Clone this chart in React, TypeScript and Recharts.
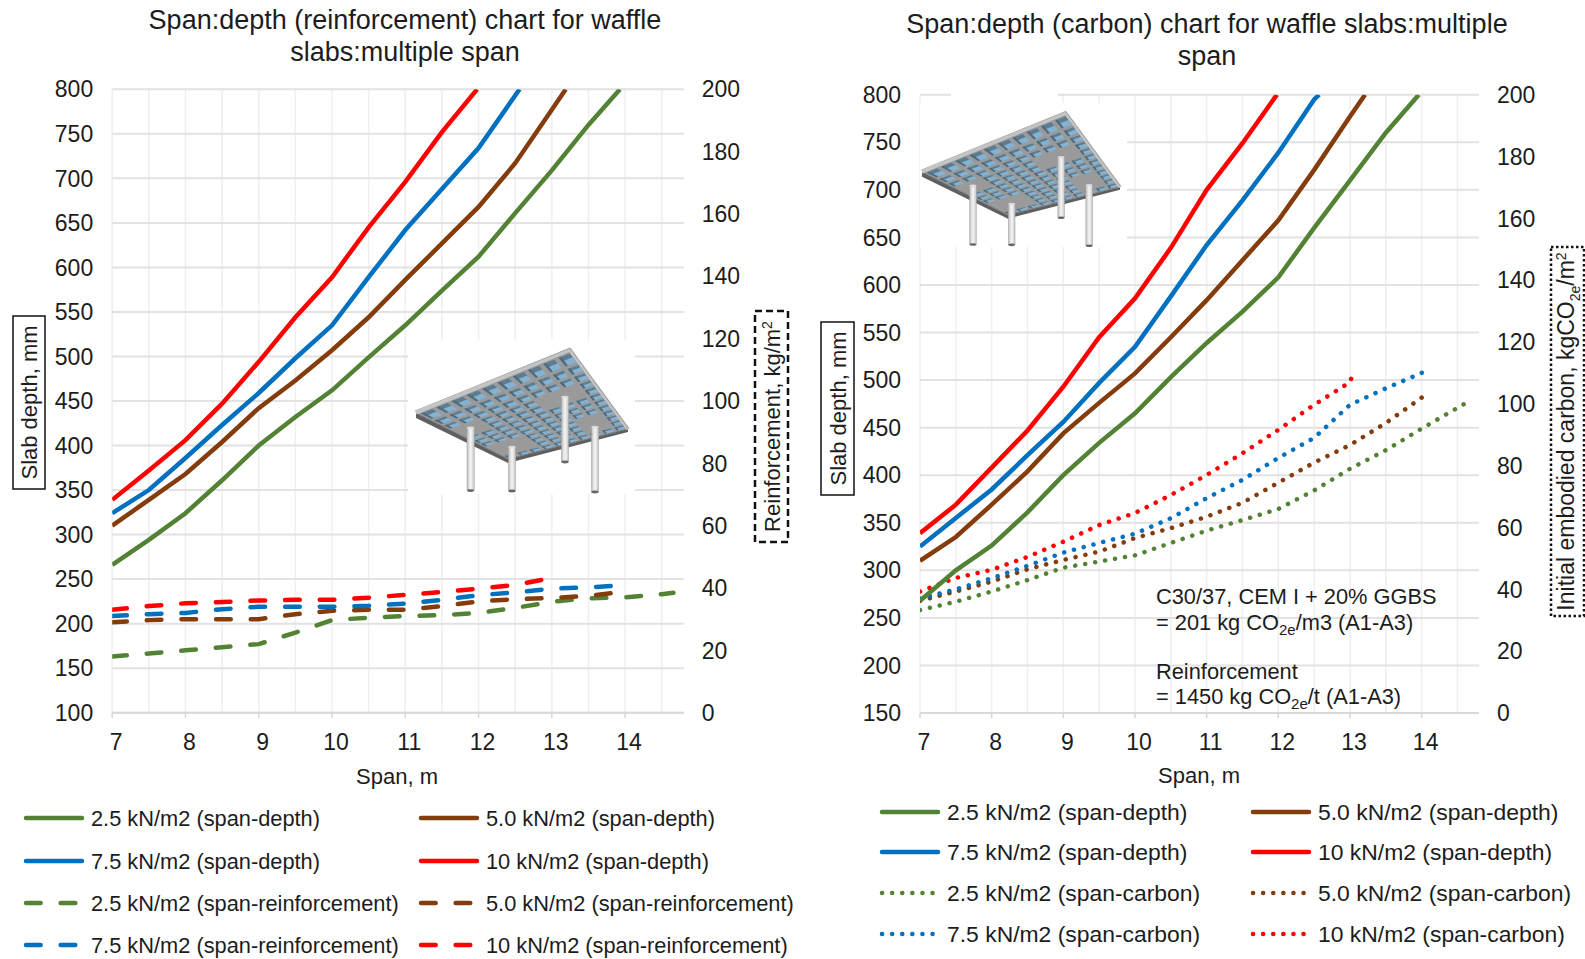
import { CartesianGrid, Line, LineChart, XAxis, YAxis } from "recharts";

const FONT = "'Liberation Sans', Arial, sans-serif";
const INK = "#1c1c1c";

const halfSpans = [7, 7.5, 8, 8.5, 9, 9.5, 10, 10.5, 11, 11.5, 12, 12.5, 13, 13.5, 14, 14.5];
const majorSpans = [7, 8, 9, 10, 11, 12, 13, 14];
const depthTicksLeft = [100, 150, 200, 250, 300, 350, 400, 450, 500, 550, 600, 650, 700, 750, 800];
const depthTicksRight = [150, 200, 250, 300, 350, 400, 450, 500, 550, 600, 650, 700, 750, 800];
const secondaryTicks = [0, 20, 40, 60, 80, 100, 120, 140, 160, 180, 200];

const loads = ["2.5 kN/m2", "5.0 kN/m2", "7.5 kN/m2", "10 kN/m2"];
const colors = ["#548235", "#843C0C", "#0070C0", "#FF0000"];

// left chart: slab depth, mm (last value of each list sits at the end span)
const leftDepth = [
  [266, 294, 324, 361, 400, 432, 462, 499, 535, 574, 612, 661, 709, 760, 800],
  [310, 339, 368, 404, 442, 473, 507, 544, 586, 627, 668, 717, 777, 800],
  [324, 350, 386, 423, 459, 498, 535, 589, 642, 688, 734, 793, 800],
  [339, 372, 406, 447, 494, 544, 589, 645, 696, 752, 800],
];
const leftDepthEnds = [13.93, 13.19, 12.56, 11.98];

// left chart: reinforcement, kg/m2
const leftRebar = [
  [18, 19, 20, 21, 22, 25.7, 29.7, 30.5, 31, 31.3, 32, 33.6, 35.6, 36.7, 37, 38, 38.5],
  [29, 29.7, 30, 30, 30, 31.6, 32.7, 33, 33, 34.2, 35.7, 36.4, 36.8, 37.5, 38.6],
  [31, 31.6, 32, 33.2, 34, 34, 34, 34.3, 35, 36.2, 37.7, 38.6, 39.8, 40.2, 40.8],
  [33, 34.2, 35.1, 35.5, 36, 36.2, 36.2, 36.9, 37.8, 38.7, 39.8, 41, 43],
];
const leftRebarEnds = [14.66, 13.91, 13.91, 12.95];

// right chart: slab depth, mm
const rightDepth = [
  [268, 300, 326, 361, 400, 434, 465, 503, 539, 572, 608, 660, 710, 760, 800],
  [310, 335, 369, 404, 444, 476, 507, 545, 584, 626, 668, 721, 777, 800],
  [325, 355, 385, 421, 456, 497, 535, 588, 642, 689, 739, 795, 800],
  [339, 369, 408, 447, 493, 545, 586, 639, 700, 749, 800],
];
const rightDepthEnds = [13.96, 13.21, 12.57, 11.98];

// right chart: initial embodied carbon, kgCO2e/m2
const rightCarbon = [
  [33.3, 36, 39.3, 43, 47, 49, 51, 55, 59, 62.4, 66, 72, 79, 85, 92, 98.7, 100.6],
  [36.3, 39.3, 42.5, 46.5, 49.5, 52.2, 56.6, 59.8, 63.5, 68, 74.5, 81, 86.7, 93.8, 102, 103],
  [37, 40, 43.6, 47.6, 51.9, 55, 58, 63, 69.5, 75.4, 82.5, 89, 99.7, 105, 110, 111],
  [39.3, 43.7, 46.3, 50.5, 55.4, 60.8, 64.7, 70.5, 77, 84, 91.6, 99.7, 107, 110.4],
];
const rightCarbonEnds = [14.64, 14.05, 14.05, 13.05];

const DASHED = "14.65 20";
const DOTTED = "0.1 10";
const LINE_WIDTH = 4.5;

const toPoints = (values: number[], endSpan: number) =>
  values.map((value, i) => ({
    span: i === values.length - 1 ? endSpan : halfSpans[i],
    value,
  }));

function XTick({ x, y, payload }: any) {
  return (
    <text x={x + 4} y={y + 30} textAnchor="middle" fontSize={23} fontFamily={FONT} fill={INK}>
      {payload.value}
    </text>
  );
}

function SpanChart(props: {
  left: number;
  width: number;
  plotLeft: number;
  plotRight: number;
  plotTop: number;
  plotBottom: number;
  minDepth: number;
  depthTicks: number[];
  depth: number[][];
  depthEnds: number[];
  other: number[][];
  otherEnds: number[];
  otherName: string;
  otherDash: string;
}) {
  const height = 800;
  const tickStyle = { fontSize: 23, fontFamily: FONT, fill: INK };
  return (
    <div style={{ position: "absolute", left: props.left, top: 0 }}>
      <LineChart
        width={props.width}
        height={height}
        margin={{ top: props.plotTop, left: 0, right: 0, bottom: 0 }}
      >
        <CartesianGrid
          xAxisId="span"
          yAxisId="depth"
          horizontal={false}
          verticalValues={halfSpans}
          stroke="#efefef"
          strokeWidth={1.5}
        />
        <CartesianGrid
          xAxisId="span"
          yAxisId="depth"
          vertical={false}
          horizontalValues={props.depthTicks}
          stroke="#e2e2e2"
          strokeWidth={2}
        />
        <XAxis
          xAxisId="span"
          type="number"
          dataKey="span"
          domain={[7, 14.8]}
          ticks={majorSpans}
          interval={0}
          height={height - props.plotBottom}
          tick={XTick}
          tickSize={5}
          tickLine={{ stroke: "#d4d4d4", strokeWidth: 1.5 }}
          axisLine={{ stroke: "#d9d9d9", strokeWidth: 2 }}
          allowDataOverflow
        />
        <YAxis
          yAxisId="depth"
          type="number"
          domain={[props.minDepth, 800]}
          ticks={props.depthTicks}
          interval={0}
          width={props.plotLeft}
          tick={tickStyle}
          tickSize={0}
          tickMargin={19}
          axisLine={false}
          allowDataOverflow
        />
        <YAxis
          yAxisId="other"
          orientation="right"
          type="number"
          domain={[0, 200]}
          ticks={secondaryTicks}
          interval={0}
          width={props.width - props.plotRight}
          tick={{ ...tickStyle, textAnchor: "start" }}
          tickSize={0}
          tickMargin={18}
          axisLine={false}
          allowDataOverflow
        />
        {props.other.map((values, i) => (
          <Line
            key={"other" + i}
            xAxisId="span"
            yAxisId="other"
            name={`${loads[i]} (${props.otherName})`}
            data={toPoints(values, props.otherEnds[i])}
            dataKey="value"
            type="linear"
            stroke={colors[i]}
            strokeWidth={LINE_WIDTH}
            strokeLinecap="round"
            strokeDasharray={props.otherDash}
            dot={false}
            isAnimationActive={false}
          />
        ))}
        {props.depth.map((values, i) => (
          <Line
            key={"depth" + i}
            xAxisId="span"
            yAxisId="depth"
            name={`${loads[i]} (span-depth)`}
            data={toPoints(values, props.depthEnds[i])}
            dataKey="value"
            type="linear"
            stroke={colors[i]}
            strokeWidth={LINE_WIDTH}
            dot={false}
            isAnimationActive={false}
          />
        ))}
      </LineChart>
    </div>
  );
}

// small drawing of the slab, local origin at its left corner
const corners = { a: [154, -63], r: [212, 16], b: [92, 46] };
const columnHeads = [
  [0.12, 0.45],
  [0.15, 0.85],
  [0.75, 0.45],
  [0.8, 0.85],
];
const columnPosts = [
  [54.6, 14.6, 63],
  [96, 34, 44],
  [149, -16, 65],
  [179, 14, 65],
];

function mapCell(u: number, v: number) {
  const vv = Math.pow(v, 0.72);
  const { a, r, b } = corners;
  const x = u * (1 - vv) * a[0] + (1 - u) * vv * b[0] + u * vv * r[0];
  const y = u * (1 - vv) * a[1] + (1 - u) * vv * b[1] + u * vv * r[1];
  return `${x.toFixed(1)},${y.toFixed(1)}`;
}

function WaffleSlab({ x, y, scale }: { x: number; y: number; scale: number }) {
  const cols = 10;
  const rows = 12;
  const cells = [];
  for (let i = 0; i < cols; i++) {
    for (let j = 0; j < rows; j++) {
      const u0 = (i + 0.14) / cols;
      const u1 = (i + 0.86) / cols;
      const v0 = (j + 0.1) / rows;
      const v1 = (j + 0.82) / rows;
      const uc = (u0 + u1) / 2;
      const vc = Math.pow((v0 + v1) / 2, 0.72);
      const solid = columnHeads.some(([hu, hv]) => Math.abs(uc - hu) < 0.12 && Math.abs(vc - hv) < 0.1);
      if (solid) continue;
      const um = u0 + (u1 - u0) * 0.22;
      const vm = v0 + (v1 - v0) * 0.38;
      cells.push(
        <g key={i + "-" + j}>
          <polygon
            points={[mapCell(u0, v0), mapCell(u1, v0), mapCell(u1, v1), mapCell(u0, v1)].join(" ")}
            fill="#84b2d2"
          />
          <polygon
            points={[mapCell(u0, v0), mapCell(u1, v0), mapCell(u1, vm), mapCell(u0, vm)].join(" ")}
            fill="#5f7c8e"
          />
          <polygon
            points={[mapCell(u0, v0), mapCell(um, v0), mapCell(um, v1), mapCell(u0, v1)].join(" ")}
            fill="#4f6a7b"
          />
        </g>
      );
    }
  }
  const { a, r, b } = corners;
  return (
    <g transform={`translate(${x} ${y}) scale(${scale})`}>
      <polygon points={`0,5 ${b[0]},${b[1] + 4} ${r[0]},${r[1] + 3} ${r} ${b} 0,0`} fill="#5f5f5f" />
      <polygon points={`0,0 ${a} ${r} ${b}`} fill="#9a9a9a" stroke="#767676" strokeWidth={1} strokeLinejoin="round" />
      {cells}
      <polyline points={`0,0 ${a} ${r}`} fill="none" stroke="#c4c4c4" strokeWidth={3.5} />
      <polyline points={`-1,-2 ${a[0]},${a[1] - 2} ${r[0] + 1},${r[1]}`} fill="none" stroke="#8a8a8a" strokeWidth={0.7} />
      {columnPosts.map(([cx, cy, len], i) => (
        <g key={i}>
          <rect x={cx - 3.6} y={cy} width={7.2} height={len} fill="url(#columnShade)" stroke="#a0a0a0" strokeWidth={0.5} />
          <ellipse cx={cx} cy={cy + len} rx={3.6} ry={1.4} fill="#666" />
          <ellipse cx={cx} cy={cy} rx={3.6} ry={1.2} fill="#dcdcdc" />
        </g>
      ))}
    </g>
  );
}

function LegendRow({ x, y, color, dash, label, size }: any) {
  return (
    <g>
      <line
        x1={x}
        x2={x + 56}
        y1={y}
        y2={y}
        stroke={color}
        strokeWidth={LINE_WIDTH}
        strokeLinecap="round"
        strokeDasharray={dash}
      />
      <text x={x + 65} y={y} dy="0.35em" fontSize={size} fontFamily={FONT} fill={INK}>
        {label}
      </text>
    </g>
  );
}

function ChartLegend({ xs, ys, otherName, dash, size }: any) {
  return (
    <g>
      {loads.map((load, i) => (
        <g key={load}>
          <LegendRow
            x={xs[i % 2]}
            y={ys[i < 2 ? 0 : 1]}
            color={colors[i]}
            label={`${load} (span-depth)`}
            size={size}
          />
          <LegendRow
            x={xs[i % 2]}
            y={ys[i < 2 ? 2 : 3]}
            color={colors[i]}
            dash={dash}
            label={`${load} (${otherName})`}
            size={size}
          />
        </g>
      ))}
    </g>
  );
}

function BoxedLabel({ x0, x1, y0, y1, dash, width, children, size = 22, shift = 8 }: any) {
  const cx = (x0 + x1) / 2;
  const cy = (y0 + y1) / 2;
  return (
    <g>
      <rect x={x0} y={y0} width={x1 - x0} height={y1 - y0} fill="#fff" stroke="#111" strokeWidth={width} strokeDasharray={dash} />
      <text
        transform={`translate(${cx + shift} ${cy}) rotate(-90)`}
        textAnchor="middle"
        fontSize={size}
        fontFamily={FONT}
        fill={INK}
      >
        {children}
      </text>
    </g>
  );
}

function Overlay() {
  const text = { fontFamily: FONT, fill: INK };
  return (
    <svg width={1585} height={959} style={{ position: "absolute", left: 0, top: 0 }}>
      <defs>
        <linearGradient id="columnShade" x1="0" x2="1" y1="0" y2="0">
          <stop offset="0" stopColor="#bdbdbd" />
          <stop offset="0.5" stopColor="#f7f7f7" />
          <stop offset="1" stopColor="#c4c4c4" />
        </linearGradient>
      </defs>

      {/* picture sits on white patches that hide the grid */}
      <rect x={408} y={340} width={227} height={154} fill="#fff" />
      <rect x={920} y={103} width={207} height={144} fill="#fff" />
      <rect x={951} y={90} width={107} height={14} fill="#fff" />
      <WaffleSlab x={416} y={413} scale={1} />
      <WaffleSlab x={922} y={172} scale={0.934} />

      <g {...text} fontSize={27} textAnchor="middle">
        <text x={405} y={29}>Span:depth (reinforcement) chart for waffle</text>
        <text x={405} y={61}>slabs:multiple span</text>
        <text x={1207} y={33}>Span:depth (carbon) chart for waffle slabs:multiple</text>
        <text x={1207} y={65}>span</text>
      </g>

      <g {...text} fontSize={22} textAnchor="middle">
        <text x={397} y={784}>Span, m</text>
        <text x={1199} y={783}>Span, m</text>
      </g>

      <BoxedLabel x0={13} x1={45} y0={316} y1={489} width={1.5}>Slab depth, mm</BoxedLabel>
      <BoxedLabel x0={821} x1={854} y0={322} y1={495} width={1.5}>Slab depth, mm</BoxedLabel>
      <BoxedLabel x0={755} x1={788} y0={311} y1={542} width={2.5} dash="7 4">
        Reinforcement, kg/m
        <tspan dy={-8} fontSize={14}>2</tspan>
      </BoxedLabel>
      <BoxedLabel x0={1551} x1={1584} y0={247} y1={616} width={2.5} dash="2.5 2.5" size={23} shift={6}>
        Initial embodied carbon, kgCO
        <tspan dy={6} fontSize={14}>2e</tspan>
        <tspan dy={-6}>/m</tspan>
        <tspan dy={-8} fontSize={14}>2</tspan>
      </BoxedLabel>

      <g {...text} fontSize={21.8}>
        <text x={1156} y={604}>C30/37, CEM I + 20% GGBS</text>
        <text x={1156} y={630}>
          = 201 kg CO
          <tspan dy={5} fontSize={15}>2e</tspan>
          <tspan dy={-5}>/m3 (A1-A3)</tspan>
        </text>
        <text x={1156} y={679}>Reinforcement</text>
        <text x={1156} y={704}>
          = 1450 kg CO
          <tspan dy={5} fontSize={15}>2e</tspan>
          <tspan dy={-5}>/t (A1-A3)</tspan>
        </text>
      </g>

      <ChartLegend xs={[26, 421]} ys={[818, 861, 903, 945]} otherName="span-reinforcement" dash={DASHED} size={21.8} />
      <ChartLegend xs={[882, 1253]} ys={[812, 852, 893, 934]} otherName="span-carbon" dash={DOTTED} size={22.9} />
    </svg>
  );
}

export default function App() {
  return (
    <div style={{ position: "absolute", left: 0, top: 0, width: 1585, height: 959, background: "#fff", overflow: "hidden" }}>
      <SpanChart
        left={0}
        width={790}
        plotLeft={112.2}
        plotRight={683.7}
        plotTop={89.3}
        plotBottom={712.7}
        minDepth={100}
        depthTicks={depthTicksLeft}
        depth={leftDepth}
        depthEnds={leftDepthEnds}
        other={leftRebar}
        otherEnds={leftRebarEnds}
        otherName="span-reinforcement"
        otherDash={DASHED}
      />
      <SpanChart
        left={790}
        width={795}
        plotLeft={130}
        plotRight={689}
        plotTop={94.7}
        plotBottom={713}
        minDepth={150}
        depthTicks={depthTicksRight}
        depth={rightDepth}
        depthEnds={rightDepthEnds}
        other={rightCarbon}
        otherEnds={rightCarbonEnds}
        otherName="span-carbon"
        otherDash={DOTTED}
      />
      <Overlay />
    </div>
  );
}
